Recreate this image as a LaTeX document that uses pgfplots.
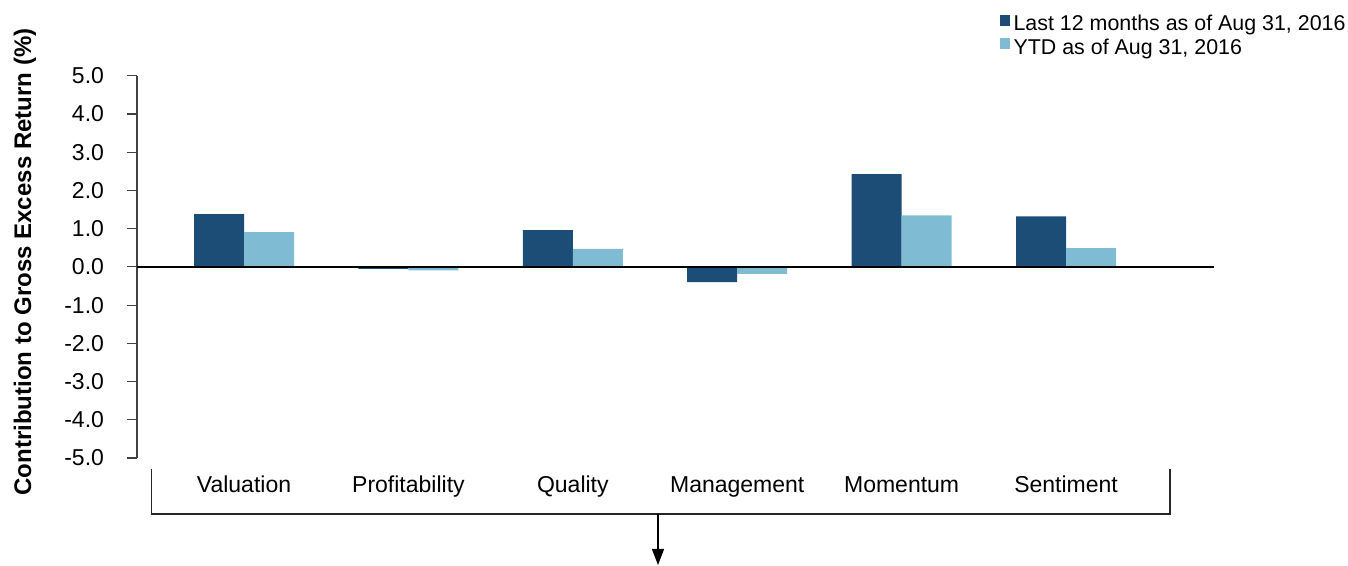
\documentclass[border=0pt]{standalone}
\usepackage{pgfplots}
\pgfplotsset{compat=1.18}
\usepackage{fontspec}
\setmainfont{Liberation Sans}
\usetikzlibrary{arrows.meta}
\definecolor{darkblue}{HTML}{1B4D77}
\definecolor{lightblue}{HTML}{7FBBD3}

\begin{document}
\begin{tikzpicture}
\useasboundingbox (0,0) rectangle (674bp,283bp);
\begin{axis}[
  at={(68.5bp,54bp)}, anchor=south west,
  scale only axis, width=538.5bp, height=191.1bp,
  xmin=-0.651, xmax=5.9, ymin=-5, ymax=5,
  clip=false,
  axis lines*=left,
  x axis line style={draw=none},
  y axis line style={draw=black!75, line width=0.6pt},
  ybar=0pt, bar width=25bp,
  ytick={-5,-4,...,5},
  yticklabels={-5.0,-4.0,-3.0,-2.0,-1.0,0.0,1.0,2.0,3.0,4.0,5.0},
  xtick={0,1,2,3,4,5},
  xticklabels={Valuation,Profitability,Quality,Management,Momentum,Sentiment},
  tick align=outside, major tick length=5bp,
  x tick style={draw=none},
  y tick style={draw=black!75, line width=0.6pt},
  ticklabel style={font=\fontsize{11.5bp}{13.8bp}\selectfont},
  xticklabel style={text height=8.3bp, text depth=2.5bp, yshift=-0.5bp},
  yticklabel style={xshift=-8bp},
  legend style={draw=none, fill=none, at={(0.795,1.18)}, anchor=north west,
    font=\fontsize{10.7bp}{11.5bp}\selectfont, row sep=-1.5bp},
  legend cell align=left,
  legend image code/.code={\fill[#1] (0bp,-0.5bp) rectangle (5bp,5bp);},
]
\addplot[fill=darkblue, draw=none] coordinates {
  (0,1.38) (1,-0.05) (2,0.96) (3,-0.40) (4,2.43) (5,1.32)};
\addplot[fill=lightblue, draw=none] coordinates {
  (0,0.91) (1,-0.09) (2,0.47) (3,-0.18) (4,1.35) (5,0.49)};
\legend{{Last 12 months as of Aug 31, 2016}, {YTD as of Aug 31, 2016}}
\draw[black, line width=0.8pt] (rel axis cs:0,0.5) -- (rel axis cs:1,0.5);
\end{axis}
\node[rotate=90, font=\bfseries\fontsize{12bp}{14bp}\selectfont] at (12.5bp,152bp)
  {Contribution to Gross Excess Return (\%)};
\draw[black!85, line width=0.6pt] (75.9bp,48.5bp) |- (585bp,26bp) -- (585bp,48.5bp);
\draw[black, line width=0.6pt, -{Triangle[length=8bp,width=6bp]}] (329bp,26bp) -- (329bp,0.5bp);
\end{tikzpicture}
\end{document}
